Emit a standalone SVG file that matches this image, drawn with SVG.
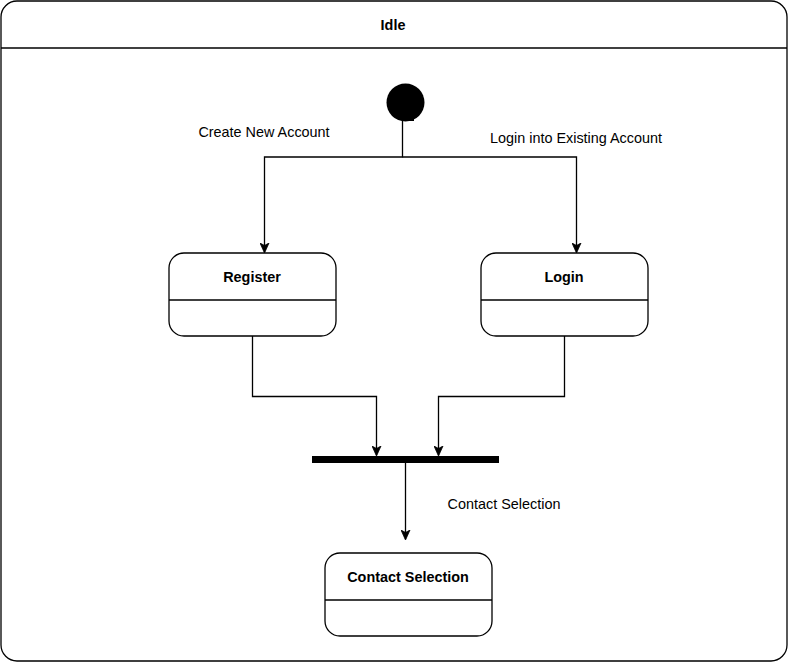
<svg xmlns="http://www.w3.org/2000/svg" width="789" height="663" viewBox="0 0 789 663">
<defs>
<style>
.box{fill:#fff;stroke:#000;stroke-width:1.3}
.div{stroke:#000;stroke-width:1.3}
.t{font-family:"Liberation Sans",Arial,sans-serif;font-size:14.4px;fill:#000;text-anchor:middle}
.b{font-weight:bold}
.c{fill:none;stroke:#000;stroke-width:1.3}
</style>
<marker id="ar" viewBox="0 0 10 10" refX="9" refY="5" markerWidth="10" markerHeight="10" markerUnits="userSpaceOnUse" orient="auto">
<path d="M0,0.5 L10,5 L0,9.5 L2.5,5 Z" fill="#000" stroke="#000" stroke-width="0.8"/>
</marker>
</defs>
<rect width="789" height="663" fill="#fff"/>
<g id="idle">
<rect class="box" x="1" y="1" width="786" height="660" rx="16" ry="16"/>
<line class="div" x1="1" y1="48" x2="787" y2="48"/>
<text class="t b" x="393" y="30">Idle</text>
</g>
<g id="start">
<circle cx="405.5" cy="102.5" r="19" fill="#000"/>
<rect x="403" y="117" width="11" height="4" fill="#000"/>
</g>
<g id="register">
<rect class="box" x="169" y="253" width="167" height="83" rx="15" ry="15"/>
<line class="div" x1="169" y1="300" x2="336" y2="300"/>
<text class="t b" x="252" y="282">Register</text>
</g>
<g id="login">
<rect class="box" x="481" y="253" width="167" height="83" rx="15" ry="15"/>
<line class="div" x1="481" y1="300" x2="648" y2="300"/>
<text class="t b" x="564" y="282">Login</text>
</g>
<g id="join">
<rect x="312" y="456" width="187" height="7" fill="#000"/>
</g>
<g id="contact">
<rect class="box" x="325" y="553" width="167" height="83" rx="15" ry="15"/>
<line class="div" x1="325" y1="600" x2="492" y2="600"/>
<text class="t b" x="408" y="582">Contact Selection</text>
</g>
<g id="connectors">
<path class="c" d="M402.5,121 V157 H264.5 V252" marker-end="url(#ar)"/>
<path class="c" d="M402.5,157 H576.5 V252" marker-end="url(#ar)"/>
<path class="c" d="M252.5,336 V396.5 H376.5 V455" marker-end="url(#ar)"/>
<path class="c" d="M564.5,336 V396.5 H438.5 V455" marker-end="url(#ar)"/>
<path class="c" d="M405.5,463 V539" marker-end="url(#ar)"/>
<text class="t" x="264" y="137">Create New Account</text>
<text class="t" x="576" y="143">Login into Existing Account</text>
<text class="t" x="504" y="509">Contact Selection</text>
</g>
</svg>
